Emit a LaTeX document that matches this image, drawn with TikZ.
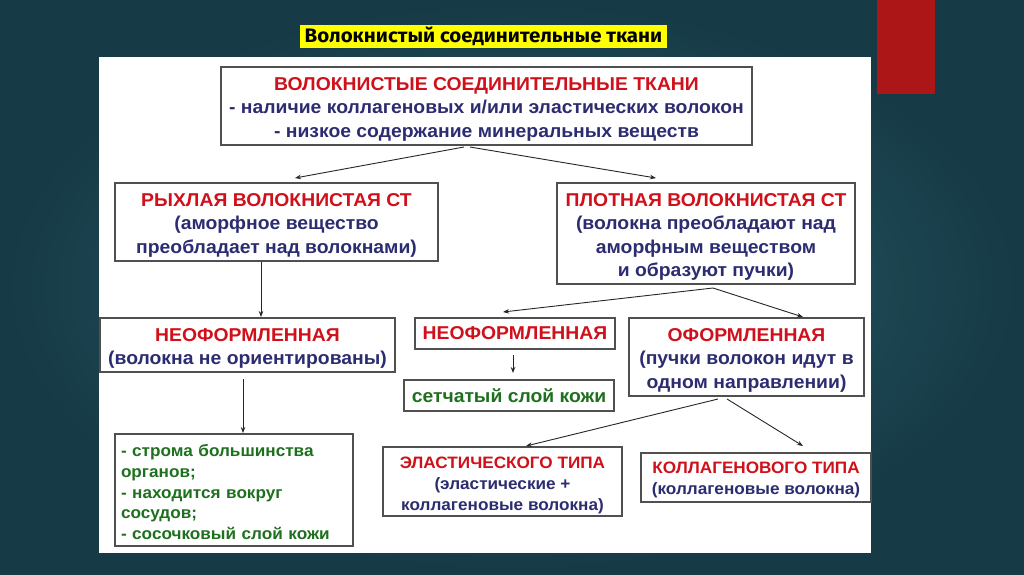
\documentclass[tikz,border=0pt]{standalone}
\usepackage{fontspec}
\setmainfont{Liberation Sans}[FakeStretch=1.04]
\newfontfamily\titlefont{Fira Sans}[FakeStretch=1.05]
\usetikzlibrary{arrows.meta,shadows}
\definecolor{bgin}{RGB}{42,98,108}
\definecolor{bgout}{RGB}{22,58,70}
\definecolor{cred}{RGB}{208,16,26}
\definecolor{cblue}{RGB}{44,44,112}
\definecolor{cgreen}{RGB}{30,112,30}
\definecolor{boxline}{RGB}{80,80,80}
\definecolor{slidered}{RGB}{172,22,22}
\definecolor{titleyellow}{RGB}{255,255,0}
\newcommand{\lift}{\rule{0pt}{19.5pt}}
\begin{document}
\begin{tikzpicture}[x=1pt,y=-1pt,
  box/.style={draw=boxline, line width=1.1pt, fill=white, inner sep=0pt, align=center,
    text=cblue, font=\bfseries\fontsize{18.6}{23.5}\selectfont,
    drop shadow={shadow xshift=1.3pt, shadow yshift=-1.3pt, fill=black!40, opacity=0.6}},
  smallbox/.style={box, font=\bfseries\fontsize{16.5}{21}\selectfont},
  arr/.style={draw=black!85, line width=0.9pt, -{Stealth[length=6pt,width=4.5pt]}}]
\useasboundingbox (0,0) rectangle (1024,574);
\shade[inner color=bgin, outer color=bgout] (0,0) rectangle (1024,574);
% red tab
\fill[slidered] (877,0) rectangle (935,94);
% white panel
\fill[white] (99,57) rectangle (871,553);
% title
\node[fill=titleyellow, minimum width=367pt, minimum height=23pt, inner sep=0pt,
  font=\titlefont\bfseries\fontsize{19.5}{21}\selectfont] (title) at (483.5,36.5)
  {Волокнистый соединительные ткани};

% boxes
\node[box, minimum width=531pt, minimum height=78pt] (top) at (486.5,106)
  {\lift\textcolor{cred}{ВОЛОКНИСТЫЕ СОЕДИНИТЕЛЬНЫЕ ТКАНИ}\\
   - наличие коллагеновых и/или эластических волокон\\
   - низкое содержание минеральных веществ};
\node[box, minimum width=323pt, minimum height=78pt] (ryh) at (276.5,222)
  {\lift\textcolor{cred}{РЫХЛАЯ ВОЛОКНИСТАЯ СТ}\\
   (аморфное вещество\\
   преобладает над волокнами)};
\node[box, minimum width=298pt, minimum height=101pt] (plot) at (706,233.5)
  {\lift\textcolor{cred}{ПЛОТНАЯ ВОЛОКНИСТАЯ СТ}\\
   (волокна преобладают над\\
   аморфным веществом\\
   и образуют пучки)};
\node[box, minimum width=295pt, minimum height=54pt] (neoL) at (247.5,345)
  {\lift\textcolor{cred}{НЕОФОРМЛЕННАЯ}\\
   (волокна не ориентированы)};
\node[box, minimum width=200pt, minimum height=31pt, text=cred] (neoM) at (515,333.5)
  {НЕОФОРМЛЕННАЯ};
\node[box, minimum width=235pt, minimum height=78pt] (oform) at (746.5,357)
  {\lift\textcolor{cred}{ОФОРМЛЕННАЯ}\\
   (пучки волокон идут в\\
   одном направлении)};
\node[box, minimum width=210pt, minimum height=31pt, text=cgreen] (setch) at (509,395.5)
  {сетчатый слой кожи};
\node[box, minimum height=112pt, text width=226pt, inner xsep=6pt, align=left, text=cgreen,
  font=\bfseries\fontsize{16.5}{20.7}\selectfont] (stroma) at (234,490)
  {\rule{0pt}{16.5pt}- строма большинства\\
   органов;\\
   - находится вокруг\\
   сосудов;\\
   - сосочковый слой кожи};
\node[smallbox, minimum width=239pt, minimum height=69pt] (elast) at (502.5,481.5)
  {\rule{0pt}{18.5pt}\textcolor{cred}{ЭЛАСТИЧЕСКОГО ТИПА}\\
   (эластические +\\
   коллагеновые волокна)};
\node[smallbox, minimum width=230pt, minimum height=49pt] (koll) at (756,477.5)
  {\rule{0pt}{16.5pt}\textcolor{cred}{КОЛЛАГЕНОВОГО ТИПА}\\
   (коллагеновые волокна)};

% connector anchor points
\coordinate (t1) at (464,147);
\coordinate (t2) at (470,147);
\coordinate (ryhIn) at (295,178);
\coordinate (plotIn) at (656,178);
\coordinate (ryhOut) at (261,262);
\coordinate (neoLIn) at (261,317);
\coordinate (plotOut) at (713,288);
\coordinate (neoMIn) at (503,312);
\coordinate (oformIn) at (803,317);
\coordinate (neoLOut) at (243,379);
\coordinate (stromaIn) at (243,433);
\coordinate (neoMOut) at (513,355);
\coordinate (setchIn) at (513,373);
\coordinate (of1) at (718,399);
\coordinate (of2) at (727,399);
\coordinate (elastIn) at (526,446);
\coordinate (kollIn) at (803,446);

\draw[arr] (t1) -- (ryhIn);
\draw[arr] (t2) -- (plotIn);
\draw[arr] (ryhOut) -- (neoLIn);
\draw[arr] (plotOut) -- (neoMIn);
\draw[arr] (plotOut) -- (oformIn);
\draw[arr] (neoLOut) -- (stromaIn);
\draw[arr] (neoMOut) -- (setchIn);
\draw[arr] (of1) -- (elastIn);
\draw[arr] (of2) -- (kollIn);
\end{tikzpicture}
\end{document}
